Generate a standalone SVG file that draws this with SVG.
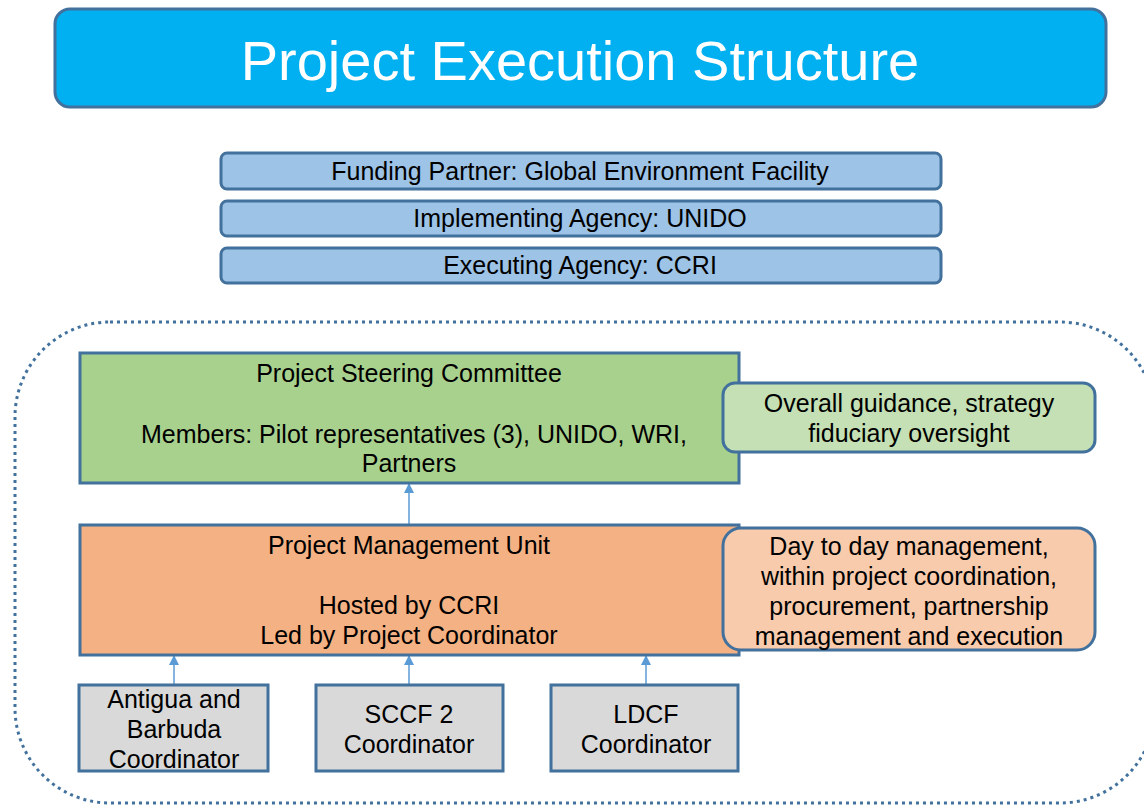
<svg xmlns="http://www.w3.org/2000/svg" width="1144" height="805" viewBox="0 0 1144 805">
  <defs>
    <marker id="arrow" viewBox="0 0 10 10" refX="9" refY="5" markerWidth="10" markerHeight="10" markerUnits="userSpaceOnUse" orient="auto">
      <path d="M0,0 L10,5 L0,10 z" fill="#5B9BD5"/>
    </marker>
    <style>
      text { font-family: "Liberation Sans", Arial, sans-serif; fill: #000; text-anchor: middle; }
      .t { font-size: 25px; }
      .box { stroke: #41719C; stroke-width: 3; }
      .bar { fill: #9DC3E6; }
      .psc { fill: #A9D18E; }
      .pmu { fill: #F4B183; }
      .note-g { fill: #C5E0B4; }
      .note-o { fill: #F8CBAD; }
      .coord { fill: #D9D9D9; }
      .link { stroke: #5B9BD5; stroke-width: 1.5; fill: none; marker-end: url(#arrow); }
    </style>
  </defs>
  <rect width="1144" height="805" fill="#fff"/>

  <!-- Title banner -->
  <g id="title">
    <rect x="55" y="9" width="1051" height="98" rx="15" fill="#00B0F0" class="box"/>
    <text x="580" y="80" style="font-size:56px; fill:#fff">Project Execution Structure</text>
  </g>

  <!-- Agency bars -->
  <g id="funding">
    <rect x="221" y="153" width="720" height="36" rx="6" class="box bar"/>
    <text x="580" y="180" class="t">Funding Partner: Global Environment Facility</text>
  </g>
  <g id="implementing">
    <rect x="221" y="201" width="720" height="35" rx="6" class="box bar"/>
    <text x="580" y="227" class="t">Implementing Agency: UNIDO</text>
  </g>
  <g id="executing">
    <rect x="221" y="248" width="720" height="35" rx="6" class="box bar"/>
    <text x="580" y="274" class="t">Executing Agency: CCRI</text>
  </g>

  <!-- Dotted project boundary -->
  <g id="boundary">
    <rect x="15" y="322" width="1140" height="481" rx="95" fill="none" stroke="#41719C" stroke-width="3" stroke-dasharray="3 4"/>
  </g>

  <!-- Connectors -->
  <g id="connectors">
    <line x1="409" y1="525" x2="409" y2="484" class="link"/>
    <line x1="174" y1="685" x2="174" y2="656" class="link"/>
    <line x1="409" y1="685" x2="409" y2="656" class="link"/>
    <line x1="646" y1="685" x2="646" y2="656" class="link"/>
  </g>

  <g id="steering">
    <rect x="80" y="353" width="659" height="130" class="box psc"/>
    <text x="409" y="382" class="t">Project Steering Committee</text>
    <text x="414" y="443" class="t">Members: Pilot representatives (3), UNIDO, WRI,</text>
    <text x="409" y="472" class="t">Partners</text>
  </g>
  <g id="guidance">
    <rect x="723" y="383" width="372" height="69" rx="12" class="box note-g"/>
    <text x="909" y="412" class="t">Overall guidance, strategy</text>
    <text x="909" y="442" class="t">fiduciary oversight</text>
  </g>

  <g id="pmu">
    <rect x="80" y="525" width="659" height="130" class="box pmu"/>
    <text x="409" y="554" class="t">Project Management Unit</text>
    <text x="409" y="614" class="t">Hosted by CCRI</text>
    <text x="409" y="644" class="t">Led by Project Coordinator</text>
  </g>
  <g id="management">
    <rect x="723" y="528" width="372" height="122" rx="18" class="box note-o"/>
    <text x="909" y="555" class="t">Day to day management,</text>
    <text x="909" y="585" class="t">within project coordination,</text>
    <text x="909" y="615" class="t">procurement, partnership</text>
    <text x="909" y="645" class="t">management and execution</text>
  </g>

  <g id="antigua">
    <rect x="79" y="685" width="189" height="86" class="box coord"/>
    <text x="174" y="708" class="t">Antigua and</text>
    <text x="174" y="738" class="t">Barbuda</text>
    <text x="174" y="768" class="t">Coordinator</text>
  </g>
  <g id="sccf">
    <rect x="316" y="685" width="187" height="86" class="box coord"/>
    <text x="409" y="723" class="t">SCCF 2</text>
    <text x="409" y="753" class="t">Coordinator</text>
  </g>
  <g id="ldcf">
    <rect x="551" y="685" width="187" height="86" class="box coord"/>
    <text x="646" y="723" class="t">LDCF</text>
    <text x="646" y="753" class="t">Coordinator</text>
  </g>
</svg>
